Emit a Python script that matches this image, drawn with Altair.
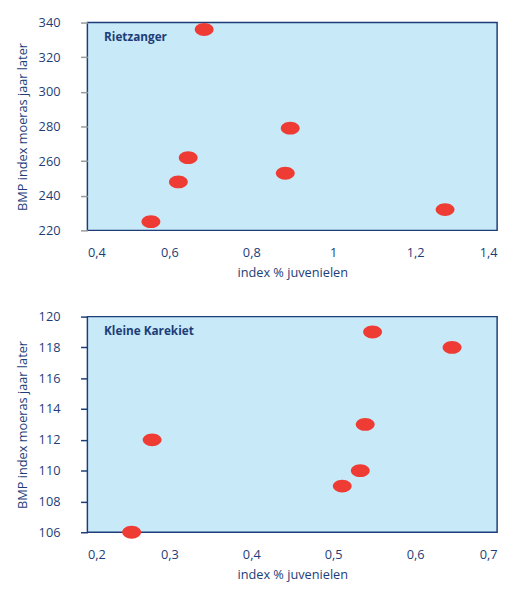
import altair as alt
import pandas as pd

# Rietzanger
riet_x = [0.685, 0.895, 0.646, 0.622, 0.883, 0.555, 1.273]
riet_y = [336, 279, 262, 248, 253, 225, 232]
riet_xticks = [0.4, 0.6, 0.8, 1.0, 1.2, 1.4]
riet_yticks = [220, 240, 260, 280, 300, 320, 340]

# Kleine Karekiet
kk_x = [0.279, 0.254, 0.548, 0.645, 0.539, 0.533, 0.511]
kk_y = [112, 106, 119, 118, 113, 110, 109]
kk_xticks = [0.2, 0.3, 0.4, 0.5, 0.6, 0.7]
kk_yticks = [106, 108, 110, 112, 114, 116, 118, 120]

NAVY = "#1d3d78"
RED = "#ee3b33"
FONT = "Open Sans"
ELLIPSE = "M-1,0 A1,0.68 0 1,1 1,0 A1,0.68 0 1,1 -1,0 Z"
LABEL_EXPR = "replace(format(datum.value, '~g'), '.', ',')"


def panel(xs, ys, xticks, yticks, name, tickcolor, h):
    df = pd.DataFrame({"x": xs, "y": ys})
    pts = alt.Chart(df).mark_point(
        shape=ELLIPSE, size=370, filled=True, fill=RED, opacity=1, strokeWidth=0
    ).encode(
        x=alt.X("x:Q", scale=alt.Scale(domain=[xticks[0], xticks[-1]], nice=False, zero=False),
                axis=alt.Axis(values=xticks, title="index % juvenielen", grid=False, ticks=False,
                              domain=False, labelExpr=LABEL_EXPR, labelPadding=17,
                              titlePadding=7)),
        y=alt.Y("y:Q", scale=alt.Scale(domain=[yticks[0], yticks[-1]], nice=False, zero=False),
                axis=alt.Axis(values=yticks, title="BMP index moeras jaar later", grid=False,
                              ticks=True, tickSize=7, tickColor=tickcolor, tickWidth=1.5,
                              domain=False, labelPadding=21, titlePadding=9)),
    )
    txt = alt.Chart(pd.DataFrame({"t": [name]})).mark_text(
        align="left", baseline="middle", fontWeight="bold", fontSize=12, font=FONT, color=NAVY
    ).encode(text="t:N", x=alt.value(17), y=alt.value(15))
    return alt.layer(pts, txt).properties(width=418, height=h)


top = panel(riet_x, riet_y, riet_xticks, riet_yticks, "Rietzanger", "#9a9a9a", 212)
bot = panel(kk_x, kk_y, kk_xticks, kk_yticks, "Kleine Karekiet", NAVY, 220)

chart = alt.vconcat(top, bot, spacing=30).properties(
    padding={"left": 7, "top": 2, "right": 5, "bottom": 0}
).configure_view(
    fill="#c8e9f8", stroke=NAVY, strokeWidth=1.5
).configure_axis(
    labelFont=FONT, titleFont=FONT, labelFontSize=13, titleFontSize=13,
    labelColor=NAVY, titleColor=NAVY, titleFontWeight="normal"
)

chart.save("out.html", embed_options={"renderer": "svg", "actions": False})
